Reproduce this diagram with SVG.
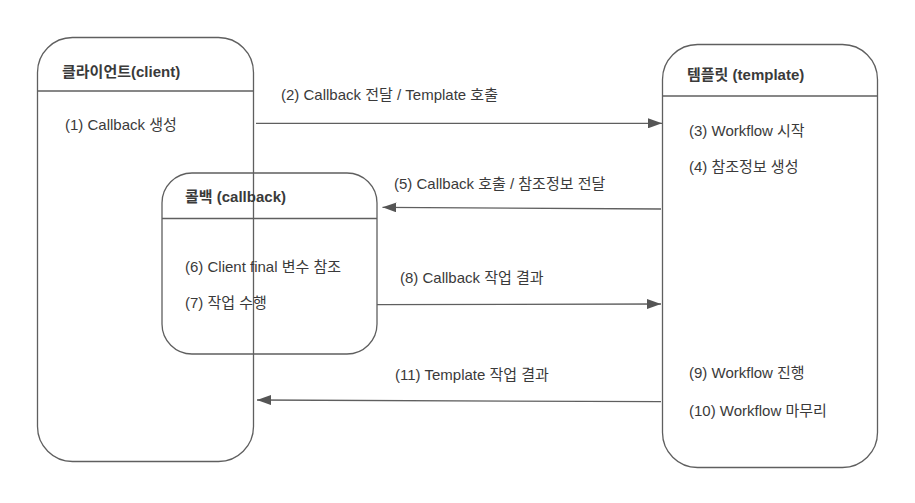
<svg xmlns="http://www.w3.org/2000/svg" width="915" height="503" viewBox="0 0 915 503">
<defs>
<style>
.box{fill:none;stroke:#5f5f5f;stroke-width:1.3}
.div{stroke:#5f5f5f;stroke-width:1.3}
.t{font-family:"Liberation Sans","Noto Sans CJK KR",sans-serif;font-size:15px;fill:#3a3a3a}
.h{font-weight:bold}
.edge{fill:none;stroke:#5f5f5f;stroke-width:1.3;marker-end:url(#ah)}
</style>
<marker id="ah" viewBox="0 0 14 10" refX="14" refY="5" markerWidth="14" markerHeight="10" markerUnits="userSpaceOnUse" orient="auto">
<path d="M0,0 L14,5 L0,10 Z" fill="#555"/>
</marker>
</defs>
<rect width="915" height="503" fill="#fff"/>
<g id="client">
<rect class="box" x="37.5" y="37.5" width="216" height="424" rx="35" ry="35"/>
<line class="div" x1="37.5" y1="91" x2="253.5" y2="91"/>
<text class="t h" x="62" y="77">클라이언트(client)</text>
<text class="t" x="65" y="130">(1) Callback 생성</text>
</g>
<g id="callback">
<rect class="box" x="162" y="173" width="215" height="181" rx="30" ry="30"/>
<line class="div" x1="162" y1="218.5" x2="377" y2="218.5"/>
<text class="t h" x="185" y="202">콜백 (callback)</text>
<text class="t" x="185" y="272">(6) Client final 변수 참조</text>
<text class="t" x="185" y="308">(7) 작업 수행</text>
</g>
<g id="template">
<rect class="box" x="662.5" y="44.5" width="215" height="423" rx="35" ry="35"/>
<line class="div" x1="662.5" y1="96" x2="877.5" y2="96"/>
<text class="t h" x="687" y="80">템플릿 (template)</text>
<text class="t" x="689" y="136">(3) Workflow 시작</text>
<text class="t" x="689" y="172">(4) 참조정보 생성</text>
<text class="t" x="689" y="378">(9) Workflow 진행</text>
<text class="t" x="689" y="416">(10) Workflow 마무리</text>
</g>
<g id="connectors">
<path class="edge" d="M256,123.3 L662,123.3"/>
<text class="t" x="281" y="100">(2) Callback 전달 / Template 호출</text>
<path class="edge" d="M661,209 L382.5,207.3"/>
<text class="t" x="394" y="189">(5) Callback 호출 / 참조정보 전달</text>
<path class="edge" d="M377,304.7 L661,304"/>
<text class="t" x="400" y="283">(8) Callback 작업 결과</text>
<path class="edge" d="M661,401.7 L257,400"/>
<text class="t" x="395" y="380">(11) Template 작업 결과</text>
</g>
</svg>
